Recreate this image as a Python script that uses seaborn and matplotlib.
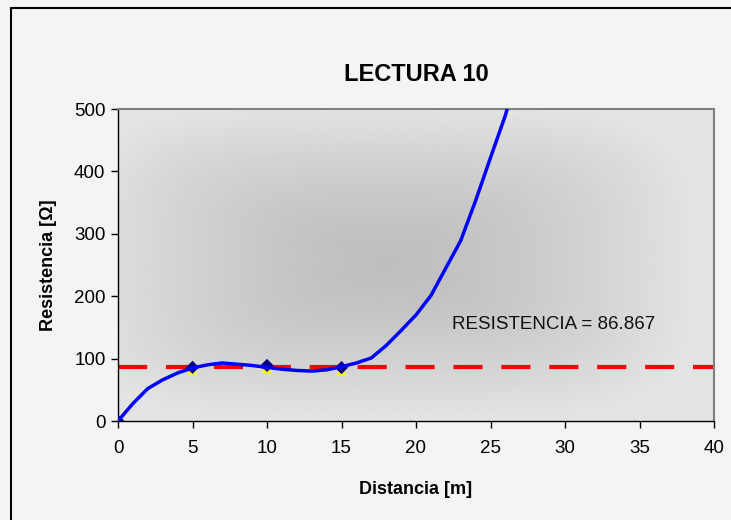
import numpy as np
import pandas as pd
import matplotlib
matplotlib.use('Agg')
import matplotlib.pyplot as plt
import seaborn as sns
from matplotlib.lines import Line2D

# --- DATA ---
dist_points = [0, 5, 10, 15]
res_points = [0, 86.0, 89.0, 85.6]
res_yellow = [0, 82.0, 85.0, 81.5]

curve_x = [0, 1, 2, 3, 4, 5, 6, 7, 8, 9, 10, 11, 12, 13, 14, 15, 16, 17, 18,
           19, 20, 21, 22, 23, 24, 25, 26, 27]
curve_y = [0, 28, 52, 66, 77, 85, 90, 93, 91, 89, 86, 83, 81, 80, 82, 87, 93,
           101, 121, 145, 170, 201, 245, 289, 353, 422, 490, 575]

resistencia = 86.867
x_ticks = [0, 5, 10, 15, 20, 25, 30, 35, 40]
y_ticks = [0, 100, 200, 300, 400, 500]

sns.set_theme(style="white")
plt.rcParams['font.family'] = ['Liberation Sans', 'DejaVu Sans']
plt.rcParams['text.color'] = 'black'
plt.rcParams['axes.labelcolor'] = 'black'
plt.rcParams['xtick.color'] = 'black'
plt.rcParams['ytick.color'] = 'black'

fig = plt.figure(figsize=(7.31, 5.2), dpi=100)
fig.patch.set_facecolor('#f4f4f4')
ax = fig.add_axes([118 / 731, 1 - 421 / 520, (714 - 118) / 731, (421 - 109) / 520])

# plot-area gradient, darker in the middle
gx = np.linspace(0, 40, 400)
gy = np.linspace(0, 500, 300)
GX, GY = np.meshgrid(gx, gy)
u = np.abs(GX - 18) / 21
v = np.abs(GY - 255) / 255
d = np.clip((u ** 4 + v ** 4) ** (1 / 4), 0, 1)
shade = (190 + (228 - 190) * d ** 1.4) / 255
ax.imshow(shade, extent=[0, 40, 0, 500], origin='lower', aspect='auto',
          cmap='gray', vmin=0, vmax=1, zorder=0, interpolation='bilinear')

df_curve = pd.DataFrame({'x': curve_x, 'y': curve_y})
df_pts = pd.DataFrame({'x': dist_points, 'y': res_points, 'y2': res_yellow})

ax.axhline(resistencia, color='#ff0000', lw=3, ls=(0, (7, 4.5)), zorder=2)
sns.scatterplot(data=df_pts.iloc[1:], x='x', y='y2', marker='^', s=50,
                color='#ffff00', edgecolor='none', ax=ax, zorder=3)
sns.scatterplot(data=df_pts, x='x', y='y', marker='D', s=45,
                color='#000080', edgecolor='none', ax=ax, zorder=4)
sns.lineplot(data=df_curve, x='x', y='y', color='#0000ff', lw=2.5,
             ax=ax, zorder=5, sort=False)

ax.text(22.4, 155, 'RESISTENCIA = 86.867', fontsize=13.5, va='center',
        ha='left', color='#111111', zorder=6)

ax.set_xlim(0, 40)
ax.set_ylim(0, 500)
ax.set_xticks(x_ticks)
ax.set_yticks(y_ticks)
ax.tick_params(axis='both', direction='out', length=5, width=1, color='black',
               labelsize=13.5, left=True, bottom=True)
ax.tick_params(axis='y', pad=4)
ax.tick_params(axis='x', pad=9)
for s in ['left', 'bottom']:
    ax.spines[s].set_color('black')
    ax.spines[s].set_linewidth(1)
for s in ['top', 'right']:
    ax.spines[s].set_color('#808080')
    ax.spines[s].set_linewidth(1.5)

ax.set_xlabel('Distancia [m]', fontsize=13, fontweight='bold', labelpad=17)
ax.set_ylabel('Resistencia [Ω]', fontsize=13, fontweight='bold', labelpad=12)
ax.set_title('LECTURA 10', fontsize=17, fontweight='bold', pad=20)
if ax.get_legend():
    ax.get_legend().remove()

# chart frame (only top and left edges visible in the picture)
fig.add_artist(Line2D([11 / 731, 1], [1 - 8 / 520, 1 - 8 / 520], color='black', lw=1.5))
fig.add_artist(Line2D([11 / 731, 11 / 731], [0, 1 - 8 / 520], color='black', lw=1.5))

fig.savefig('out.png', dpi=100, facecolor=fig.get_facecolor())
